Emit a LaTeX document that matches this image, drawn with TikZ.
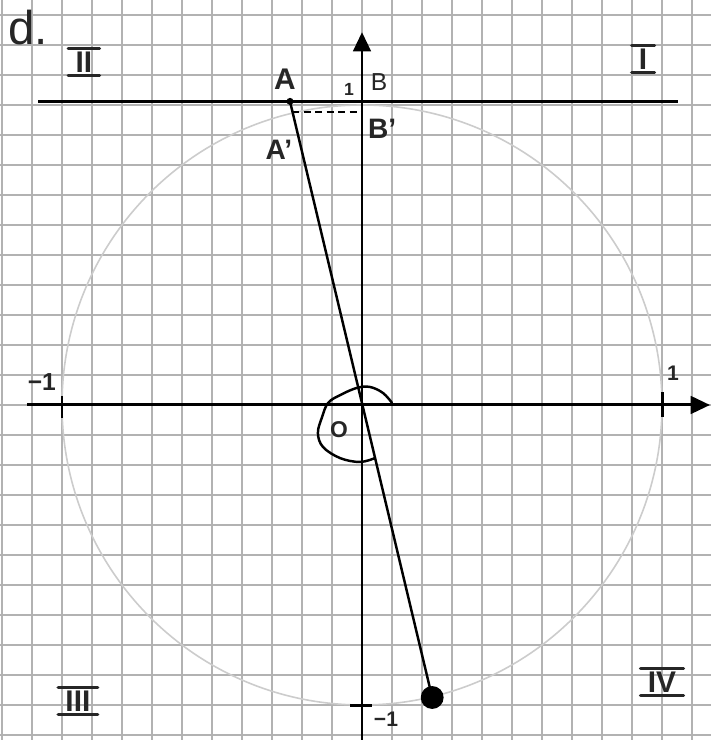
\documentclass[tikz,border=0pt]{standalone}
\usepackage{fontspec}
\setmainfont{Liberation Sans}
\usetikzlibrary{arrows.meta}
\begin{document}
\begin{tikzpicture}[x=6cm,y=6cm,
  gridline/.style={draw=black!30, line width=0.8pt},
  unitcircle/.style={draw=black!20, line width=0.9pt},
  axisline/.style={line width=1.7pt, -{Triangle[length=11pt,width=10pt]}},
  mainline/.style={line width=1.4pt},
  tickline/.style={line width=1.7pt},
  dashline/.style={line width=1.1pt, dash pattern=on 4pt off 2.5pt},
  lbl/.style={inner sep=0pt, text=black!85},
  romanlbl/.style={inner sep=0pt, text=black!85, font=\fontsize{17}{17}\selectfont\bfseries},
  romanbar/.style={line width=1.8pt, draw=black!85, line cap=round},
  dotnode/.style={circle, fill=black, inner sep=0pt, minimum size=#1},
]
\useasboundingbox (-1.2067,-1.1167) rectangle (1.1633,1.35);
\fill[white] (-1.2067,-1.1167) rectangle (1.1633,1.35);
% squared paper
\foreach \i in {-12,...,11} \draw[gridline] (\i/10,-1.1167) -- (\i/10,1.35);
\foreach \j in {-11,...,13} \draw[gridline] (-1.2067,\j/10) -- (1.1633,\j/10);
% unit circle
\coordinate (O) at (0,0);
\draw[unitcircle] (O) circle[radius=1];
% axes
\coordinate (xs) at (-1.117,0);
\coordinate (xe) at (1.16,0);
\coordinate (ys) at (0,-1.117);
\coordinate (ye) at (0,1.243);
\draw[axisline] (xs) -- (xe);
\draw[axisline] (ys) -- (ye);
% tangent line y = 1
\coordinate (ts) at (-1.08,1.012);
\coordinate (te) at (1.053,1.012);
\draw[mainline] (ts) -- (te);
% points
\node[dotnode=4pt] (A) at (-0.24,1.012) {};
\node[dotnode=13pt] (P) at (0.234,-0.975) {};
\draw[mainline] (A.center) -- (P.center);
\coordinate (Ap) at (-0.232,0.978);
\coordinate (Bp) at (0,0.978);
\draw[dashline] (Ap) -- (Bp);
% ticks
\coordinate (t1a) at (1,0.043);
\coordinate (t1b) at (1,-0.04);
\coordinate (t2a) at (-1,0.03);
\coordinate (t2b) at (-1,-0.043);
\coordinate (t3a) at (-0.04,-1.003);
\coordinate (t3b) at (0.033,-1.003);
\draw[tickline] (t1a) -- (t1b);
\draw[tickline] (t2a) -- (t2b);
\draw[tickline] (t3a) -- (t3b);
% angle mark at the origin
\draw[line width=1.4pt, line cap=round] plot[smooth, tension=0.6] coordinates {
 (0.1,0.007) (0.07,0.04) (0.027,0.06) (-0.017,0.057) (-0.073,0.033)
 (-0.113,0.007) (-0.133,-0.04) (-0.147,-0.093) (-0.13,-0.14)
 (-0.073,-0.177) (-0.007,-0.19) (0.043,-0.177)};
% labels
\node[lbl, anchor=base west, font=\fontsize{27}{27}\selectfont] (d) at (-1.18,1.2) {d.};
\node[lbl, font=\fontsize{17}{17}\selectfont\bfseries] (lA) at (-0.257,1.087) {A};
\node[lbl, font=\fontsize{16}{16}\selectfont\bfseries] (lAp) at (-0.277,0.85) {A'};
\node[lbl, font=\fontsize{14}{14}\selectfont] (lB) at (0.057,1.077) {B};
\node[lbl, font=\fontsize{16}{16}\selectfont\bfseries] (lBp) at (0.067,0.92) {B'};
\node[lbl, font=\fontsize{10}{10}\selectfont\bfseries] (l1t) at (-0.043,1.053) {1};
\node[lbl, font=\fontsize{12}{12}\selectfont\bfseries] (l1r) at (1.037,0.107) {1};
\node[lbl, font=\fontsize{14}{14}\selectfont\bfseries] (lm1l) at (-1.067,0.075) {−1};
\node[lbl, font=\fontsize{12}{12}\selectfont\bfseries] (lm1b) at (0.08,-1.047) {−1};
\node[lbl, font=\fontsize{13}{13}\selectfont\bfseries] (lO) at (-0.077,-0.083) {O};
% quadrant numerals
\node[romanlbl] (q1) at (0.937,1.153) {I};
\node[romanlbl] (q2) at (-0.927,1.143) {II};
\node[romanlbl] (q3) at (-0.947,-0.987) {III};
\node[romanlbl] (q4) at (1.0,-0.923) {IV};
\foreach \q in {q1,q2,q3,q4} {
  \draw[romanbar] ([xshift=-4pt,yshift=1.5pt]\q.north west) -- ([xshift=4pt,yshift=1.5pt]\q.north east);
  \draw[romanbar] ([xshift=-4pt,yshift=-1.5pt]\q.south west) -- ([xshift=4pt,yshift=-1.5pt]\q.south east);
}
\end{tikzpicture}
\end{document}
